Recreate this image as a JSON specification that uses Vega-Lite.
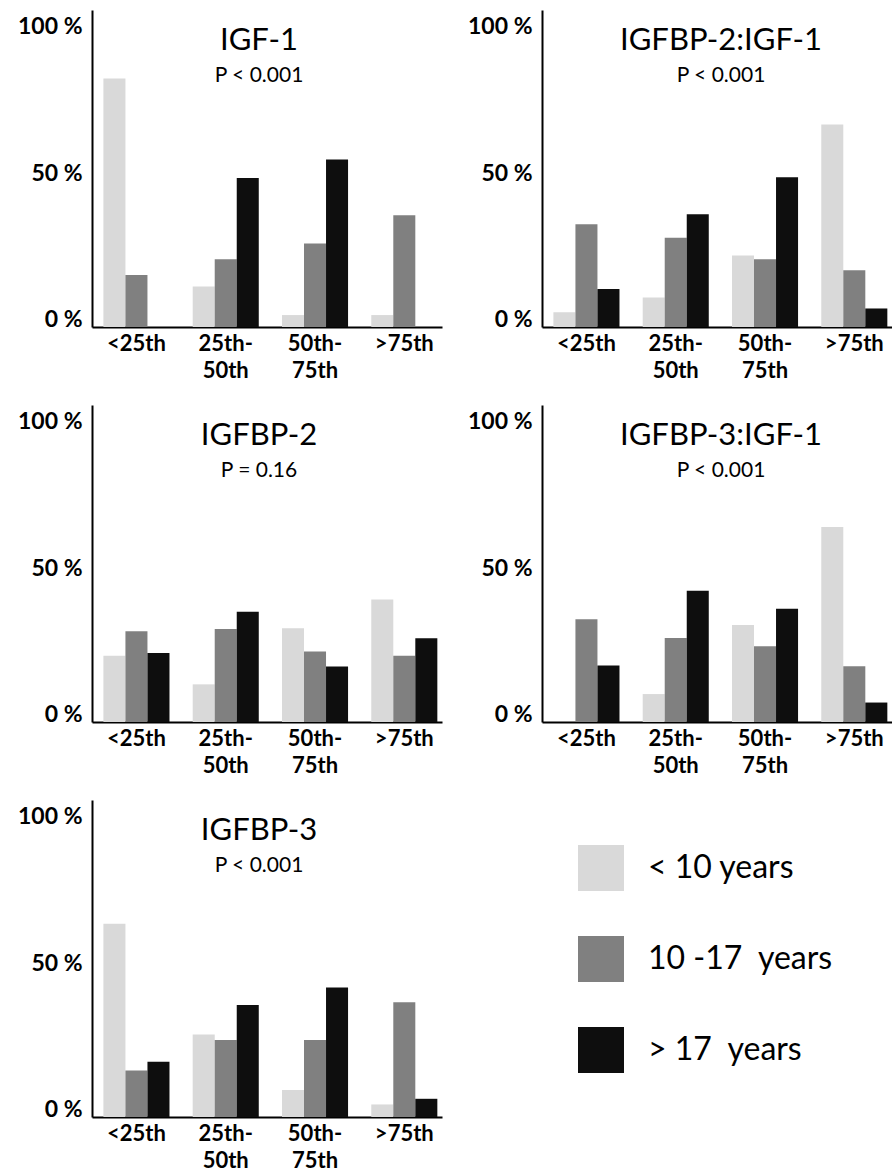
{
  "$schema": "https://vega.github.io/schema/vega-lite/v6.json",
  "background": "white",
  "padding": {"left": 17, "top": 10, "right": 0, "bottom": 0},
  "datasets": {
    "d": [
      {"panel": "IGF-1", "q": "<25th", "age": "< 10 years", "v": 79.2},
      {"panel": "IGF-1", "q": "<25th", "age": "10 -17\u00a0 years", "v": 16.6},
      {"panel": "IGF-1", "q": "<25th", "age": "> 17\u00a0 years", "v": 0},
      {"panel": "IGF-1", "q": "25th-50th", "age": "< 10 years", "v": 12.9},
      {"panel": "IGF-1", "q": "25th-50th", "age": "10 -17\u00a0 years", "v": 21.6},
      {"panel": "IGF-1", "q": "25th-50th", "age": "> 17\u00a0 years", "v": 47.5},
      {"panel": "IGF-1", "q": "50th-75th", "age": "< 10 years", "v": 3.8},
      {"panel": "IGF-1", "q": "50th-75th", "age": "10 -17\u00a0 years", "v": 26.6},
      {"panel": "IGF-1", "q": "50th-75th", "age": "> 17\u00a0 years", "v": 53.4},
      {"panel": "IGF-1", "q": ">75th", "age": "< 10 years", "v": 3.8},
      {"panel": "IGF-1", "q": ">75th", "age": "10 -17\u00a0 years", "v": 35.6},
      {"panel": "IGF-1", "q": ">75th", "age": "> 17\u00a0 years", "v": 0},

      {"panel": "IGFBP-2:IGF-1", "q": "<25th", "age": "< 10 years", "v": 4.7},
      {"panel": "IGFBP-2:IGF-1", "q": "<25th", "age": "10 -17\u00a0 years", "v": 32.7},
      {"panel": "IGFBP-2:IGF-1", "q": "<25th", "age": "> 17\u00a0 years", "v": 12.1},
      {"panel": "IGFBP-2:IGF-1", "q": "25th-50th", "age": "< 10 years", "v": 9.4},
      {"panel": "IGFBP-2:IGF-1", "q": "25th-50th", "age": "10 -17\u00a0 years", "v": 28.4},
      {"panel": "IGFBP-2:IGF-1", "q": "25th-50th", "age": "> 17\u00a0 years", "v": 35.9},
      {"panel": "IGFBP-2:IGF-1", "q": "50th-75th", "age": "< 10 years", "v": 22.8},
      {"panel": "IGFBP-2:IGF-1", "q": "50th-75th", "age": "10 -17\u00a0 years", "v": 21.6},
      {"panel": "IGFBP-2:IGF-1", "q": "50th-75th", "age": "> 17\u00a0 years", "v": 47.7},
      {"panel": "IGFBP-2:IGF-1", "q": ">75th", "age": "< 10 years", "v": 64.5},
      {"panel": "IGFBP-2:IGF-1", "q": ">75th", "age": "10 -17\u00a0 years", "v": 18.1},
      {"panel": "IGFBP-2:IGF-1", "q": ">75th", "age": "> 17\u00a0 years", "v": 5.9},

      {"panel": "IGFBP-2", "q": "<25th", "age": "< 10 years", "v": 21.1},
      {"panel": "IGFBP-2", "q": "<25th", "age": "10 -17\u00a0 years", "v": 28.9},
      {"panel": "IGFBP-2", "q": "<25th", "age": "> 17\u00a0 years", "v": 22.0},
      {"panel": "IGFBP-2", "q": "25th-50th", "age": "< 10 years", "v": 12.0},
      {"panel": "IGFBP-2", "q": "25th-50th", "age": "10 -17\u00a0 years", "v": 29.6},
      {"panel": "IGFBP-2", "q": "25th-50th", "age": "> 17\u00a0 years", "v": 35.1},
      {"panel": "IGFBP-2", "q": "50th-75th", "age": "< 10 years", "v": 29.9},
      {"panel": "IGFBP-2", "q": "50th-75th", "age": "10 -17\u00a0 years", "v": 22.5},
      {"panel": "IGFBP-2", "q": "50th-75th", "age": "> 17\u00a0 years", "v": 17.7},
      {"panel": "IGFBP-2", "q": ">75th", "age": "< 10 years", "v": 39.0},
      {"panel": "IGFBP-2", "q": ">75th", "age": "10 -17\u00a0 years", "v": 21.1},
      {"panel": "IGFBP-2", "q": ">75th", "age": "> 17\u00a0 years", "v": 26.7},

      {"panel": "IGFBP-3:IGF-1", "q": "<25th", "age": "< 10 years", "v": 0},
      {"panel": "IGFBP-3:IGF-1", "q": "<25th", "age": "10 -17\u00a0 years", "v": 32.7},
      {"panel": "IGFBP-3:IGF-1", "q": "<25th", "age": "> 17\u00a0 years", "v": 18.0},
      {"panel": "IGFBP-3:IGF-1", "q": "25th-50th", "age": "< 10 years", "v": 8.9},
      {"panel": "IGFBP-3:IGF-1", "q": "25th-50th", "age": "10 -17\u00a0 years", "v": 26.8},
      {"panel": "IGFBP-3:IGF-1", "q": "25th-50th", "age": "> 17\u00a0 years", "v": 41.8},
      {"panel": "IGFBP-3:IGF-1", "q": "50th-75th", "age": "< 10 years", "v": 30.9},
      {"panel": "IGFBP-3:IGF-1", "q": "50th-75th", "age": "10 -17\u00a0 years", "v": 24.1},
      {"panel": "IGFBP-3:IGF-1", "q": "50th-75th", "age": "> 17\u00a0 years", "v": 36.1},
      {"panel": "IGFBP-3:IGF-1", "q": ">75th", "age": "< 10 years", "v": 62.1},
      {"panel": "IGFBP-3:IGF-1", "q": ">75th", "age": "10 -17\u00a0 years", "v": 17.8},
      {"panel": "IGFBP-3:IGF-1", "q": ">75th", "age": "> 17\u00a0 years", "v": 6.2},

      {"panel": "IGFBP-3", "q": "<25th", "age": "< 10 years", "v": 61.6},
      {"panel": "IGFBP-3", "q": "<25th", "age": "10 -17\u00a0 years", "v": 14.8},
      {"panel": "IGFBP-3", "q": "<25th", "age": "> 17\u00a0 years", "v": 17.6},
      {"panel": "IGFBP-3", "q": "25th-50th", "age": "< 10 years", "v": 26.3},
      {"panel": "IGFBP-3", "q": "25th-50th", "age": "10 -17\u00a0 years", "v": 24.5},
      {"panel": "IGFBP-3", "q": "25th-50th", "age": "> 17\u00a0 years", "v": 35.7},
      {"panel": "IGFBP-3", "q": "50th-75th", "age": "< 10 years", "v": 8.6},
      {"panel": "IGFBP-3", "q": "50th-75th", "age": "10 -17\u00a0 years", "v": 24.5},
      {"panel": "IGFBP-3", "q": "50th-75th", "age": "> 17\u00a0 years", "v": 41.3},
      {"panel": "IGFBP-3", "q": ">75th", "age": "< 10 years", "v": 4.0},
      {"panel": "IGFBP-3", "q": ">75th", "age": "10 -17\u00a0 years", "v": 36.6},
      {"panel": "IGFBP-3", "q": ">75th", "age": "> 17\u00a0 years", "v": 5.8}
    ]
  },
  "data": {"name": "d"},
  "columns": 2,
  "spacing": {"row": 78, "column": 100},
  "bounds": "flush",
  "concat": [
    {
      "title": {"text": "IGF-1", "subtitle": "P < 0.001", "dx": -8},
      "width": 350, "height": 317,
      "transform": [{"filter": "datum.panel == 'IGF-1'"}],
      "mark": {"type": "bar"},
      "encoding": {
        "x": {"field": "q", "type": "nominal", "sort": ["<25th", "25th-50th", "50th-75th", ">75th"], "scale": {"paddingInner": 0.26, "paddingOuter": 0.09, "align": 0.71}, "axis": {"title": null, "labelAngle": 0, "labelExpr": "datum.value == '25th-50th' ? ['25th-', '50th'] : datum.value == '50th-75th' ? ['50th-', '75th'] : datum.value"}},
        "xOffset": {"field": "age", "type": "nominal", "sort": ["< 10 years", "10 -17\u00a0 years", "> 17\u00a0 years"], "scale": {"paddingInner": 0, "paddingOuter": 0}},
        "y": {"field": "v", "type": "quantitative", "scale": {"domain": [0, 101], "nice": false}, "axis": {"title": null, "values": [0, 50, 100], "labelExpr": "datum.value + ' %'", "labelOffset": {"condition": [{"test": "datum.value == 100", "value": 13}, {"test": "datum.value == 0", "value": -8}], "value": 3}}},
        "color": {"field": "age", "type": "nominal", "sort": ["< 10 years", "10 -17\u00a0 years", "> 17\u00a0 years"], "scale": {"domain": ["< 10 years", "10 -17\u00a0 years", "> 17\u00a0 years"], "range": ["#d9d9d9", "#808080", "#0e0e0e"]}, "legend": {"title": null, "orient": "none", "legendX": 486, "legendY": 835}}
      }
    },
    {
      "title": {"text": "IGFBP-2:IGF-1", "subtitle": "P < 0.001", "dx": 4},
      "width": 350, "height": 317,
      "transform": [{"filter": "datum.panel == 'IGFBP-2:IGF-1'"}],
      "mark": {"type": "bar"},
      "encoding": {
        "x": {"field": "q", "type": "nominal", "sort": ["<25th", "25th-50th", "50th-75th", ">75th"], "scale": {"paddingInner": 0.26, "paddingOuter": 0.09, "align": 0.71}, "axis": {"title": null, "labelAngle": 0, "labelExpr": "datum.value == '25th-50th' ? ['25th-', '50th'] : datum.value == '50th-75th' ? ['50th-', '75th'] : datum.value"}},
        "xOffset": {"field": "age", "type": "nominal", "sort": ["< 10 years", "10 -17\u00a0 years", "> 17\u00a0 years"], "scale": {"paddingInner": 0, "paddingOuter": 0}},
        "y": {"field": "v", "type": "quantitative", "scale": {"domain": [0, 101], "nice": false}, "axis": {"title": null, "values": [0, 50, 100], "labelExpr": "datum.value + ' %'", "labelOffset": {"condition": [{"test": "datum.value == 100", "value": 13}, {"test": "datum.value == 0", "value": -8}], "value": 3}}},
        "color": {"field": "age", "type": "nominal", "sort": ["< 10 years", "10 -17\u00a0 years", "> 17\u00a0 years"]}
      }
    },
    {
      "title": {"text": "IGFBP-2", "subtitle": "P = 0.16", "dx": -8},
      "width": 350, "height": 317,
      "transform": [{"filter": "datum.panel == 'IGFBP-2'"}],
      "mark": {"type": "bar"},
      "encoding": {
        "x": {"field": "q", "type": "nominal", "sort": ["<25th", "25th-50th", "50th-75th", ">75th"], "scale": {"paddingInner": 0.26, "paddingOuter": 0.09, "align": 0.71}, "axis": {"title": null, "labelAngle": 0, "labelExpr": "datum.value == '25th-50th' ? ['25th-', '50th'] : datum.value == '50th-75th' ? ['50th-', '75th'] : datum.value"}},
        "xOffset": {"field": "age", "type": "nominal", "sort": ["< 10 years", "10 -17\u00a0 years", "> 17\u00a0 years"], "scale": {"paddingInner": 0, "paddingOuter": 0}},
        "y": {"field": "v", "type": "quantitative", "scale": {"domain": [0, 101], "nice": false}, "axis": {"title": null, "values": [0, 50, 100], "labelExpr": "datum.value + ' %'", "labelOffset": {"condition": [{"test": "datum.value == 100", "value": 13}, {"test": "datum.value == 0", "value": -8}], "value": 3}}},
        "color": {"field": "age", "type": "nominal", "sort": ["< 10 years", "10 -17\u00a0 years", "> 17\u00a0 years"]}
      }
    },
    {
      "title": {"text": "IGFBP-3:IGF-1", "subtitle": "P < 0.001", "dx": 4},
      "width": 350, "height": 317,
      "transform": [{"filter": "datum.panel == 'IGFBP-3:IGF-1'"}],
      "mark": {"type": "bar"},
      "encoding": {
        "x": {"field": "q", "type": "nominal", "sort": ["<25th", "25th-50th", "50th-75th", ">75th"], "scale": {"paddingInner": 0.26, "paddingOuter": 0.09, "align": 0.71}, "axis": {"title": null, "labelAngle": 0, "labelExpr": "datum.value == '25th-50th' ? ['25th-', '50th'] : datum.value == '50th-75th' ? ['50th-', '75th'] : datum.value"}},
        "xOffset": {"field": "age", "type": "nominal", "sort": ["< 10 years", "10 -17\u00a0 years", "> 17\u00a0 years"], "scale": {"paddingInner": 0, "paddingOuter": 0}},
        "y": {"field": "v", "type": "quantitative", "scale": {"domain": [0, 101], "nice": false}, "axis": {"title": null, "values": [0, 50, 100], "labelExpr": "datum.value + ' %'", "labelOffset": {"condition": [{"test": "datum.value == 100", "value": 13}, {"test": "datum.value == 0", "value": -8}], "value": 3}}},
        "color": {"field": "age", "type": "nominal", "sort": ["< 10 years", "10 -17\u00a0 years", "> 17\u00a0 years"]}
      }
    },
    {
      "title": {"text": "IGFBP-3", "subtitle": "P < 0.001", "dx": -8},
      "width": 350, "height": 317,
      "transform": [{"filter": "datum.panel == 'IGFBP-3'"}],
      "mark": {"type": "bar"},
      "encoding": {
        "x": {"field": "q", "type": "nominal", "sort": ["<25th", "25th-50th", "50th-75th", ">75th"], "scale": {"paddingInner": 0.26, "paddingOuter": 0.09, "align": 0.71}, "axis": {"title": null, "labelAngle": 0, "labelExpr": "datum.value == '25th-50th' ? ['25th-', '50th'] : datum.value == '50th-75th' ? ['50th-', '75th'] : datum.value"}},
        "xOffset": {"field": "age", "type": "nominal", "sort": ["< 10 years", "10 -17\u00a0 years", "> 17\u00a0 years"], "scale": {"paddingInner": 0, "paddingOuter": 0}},
        "y": {"field": "v", "type": "quantitative", "scale": {"domain": [0, 101], "nice": false}, "axis": {"title": null, "values": [0, 50, 100], "labelExpr": "datum.value + ' %'", "labelOffset": {"condition": [{"test": "datum.value == 100", "value": 13}, {"test": "datum.value == 0", "value": -8}], "value": 3}}},
        "color": {"field": "age", "type": "nominal", "sort": ["< 10 years", "10 -17\u00a0 years", "> 17\u00a0 years"]}
      }
    }
  ],
  "resolve": {"scale": {"color": "shared"}},
  "config": {
    "font": "Lato",
    "view": {"stroke": null},
    "axis": {"grid": false, "ticks": false, "tickSize": 0, "domainColor": "#000000", "domainWidth": 2, "labelColor": "#000000", "labelFont": "Lato", "labelFontWeight": "bold"},
    "axisX": {"labelFontSize": 22, "labelPadding": 6, "labelLineHeight": 27, "labelBaseline": "top"},
    "axisY": {"labelFontSize": 23, "labelPadding": 10},
    "title": {"font": "Lato", "fontSize": 31, "fontWeight": "normal", "color": "#000000", "anchor": "middle", "offset": -77, "subtitleFont": "Lato", "subtitleFontSize": 21, "subtitleColor": "#000000", "subtitlePadding": 8},
    "legend": {"symbolType": "square", "symbolSize": 2116, "symbolStrokeWidth": 0, "labelFontSize": 32, "labelFont": "Lato", "labelColor": "#000000", "labelOffset": 24, "rowPadding": 45, "labelLimit": 300}
  }
}
